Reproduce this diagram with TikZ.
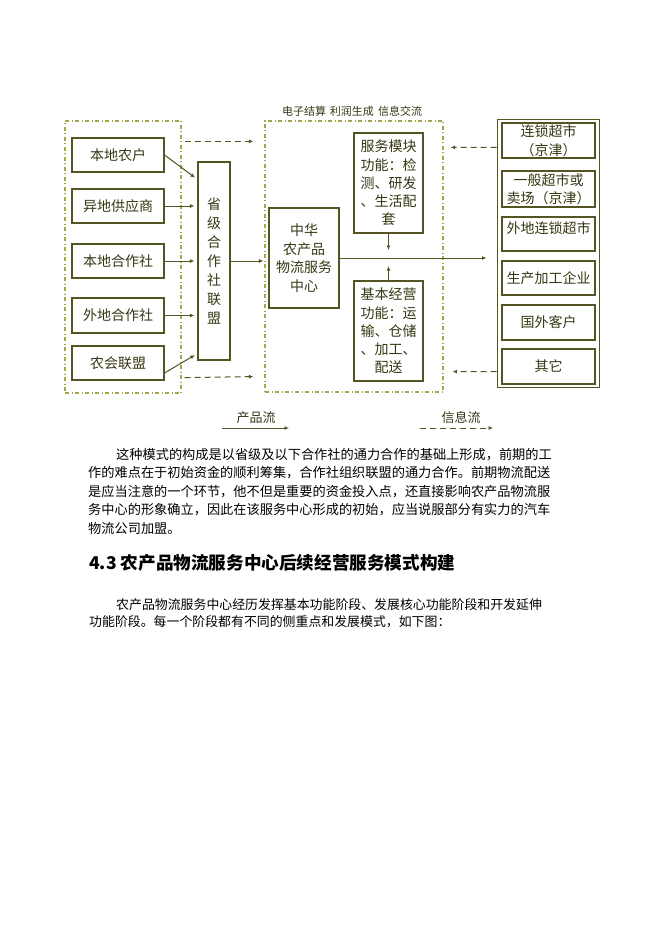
\documentclass[tikz,border=0pt]{standalone}
\usepackage{fontspec}
\setmainfont{Noto Sans CJK SC}
\usetikzlibrary{arrows.meta,calc}
\definecolor{lineC}{RGB}{85,85,35}
\definecolor{dashC}{RGB}{165,165,75}
\definecolor{txtC}{RGB}{55,55,20}
\tikzset{
 box/.style={draw=lineC, line width=1.1pt, text=txtC, font=\fontsize{14}{18.5}\selectfont, align=center, inner sep=0pt},
 lbox/.style={box, minimum width=92pt, minimum height=34pt},
 rbox/.style={box, minimum width=93pt, minimum height=35pt},
 encl/.style={draw=dashC, line width=1.2pt, dash pattern=on 4pt off 2.5pt on 1pt off 2.5pt, inner sep=0pt},
 arr/.style={draw=lineC, line width=1pt, -{Latex[length=4.5pt,width=4pt]}},
 darr/.style={arr, dash pattern=on 6pt off 4pt},
 para/.style={anchor=west, inner sep=0pt, font=\fontsize{13.2}{16}\selectfont},
 parb/.style={anchor=west, inner sep=0pt, font=\fontsize{12.9}{16}\selectfont},
 legend/.style={text=txtC, font=\fontsize{13}{15}\selectfont, inner sep=0pt},
}
\begin{document}
\begin{tikzpicture}[x=1pt,y=-1pt]
\fill[white] (0,0) rectangle (662,936);
\useasboundingbox (0,0) rectangle (662,936);
% enclosures
\node[encl, minimum width=116pt, minimum height=272pt] (LB) at (123,257) {};
\node[encl, minimum width=178pt, minimum height=271pt] (CB) at (354,256.5) {};
\node[text=txtC, font=\fontsize{11}{12}\selectfont, inner sep=0pt] (top) at (352,111) {电子结算\hspace{4pt}利润生成\hspace{4pt}信息交流};
% left boxes
\node[lbox] (n1) at (118,155) {本地农户};
\node[lbox] (n2) at (118,206) {异地供应商};
\node[lbox] (n3) at (118,261) {本地合作社};
\node[lbox, minimum height=35pt] (n4) at (118,315.5) {外地合作社};
\node[lbox] (n5) at (118,363) {农会联盟};
% province box
\node[box, minimum width=32pt, minimum height=198pt, font=\fontsize{14}{19}\selectfont] (P) at (214,261) {省\\级\\合\\作\\社\\联\\盟};
% center boxes
\node[box, minimum width=70pt, minimum height=100pt] (Z) at (304,258) {中华\\农产品\\物流服务\\中心};
\node[box, minimum width=69pt, minimum height=100pt, font=\fontsize{14}{18.3}\selectfont] (S) at (388.5,183) {服务模块\\功能：检\\测、研发\\、生活配\\套};
\node[box, minimum width=69pt, minimum height=100pt, font=\fontsize{14}{18.3}\selectfont] (B) at (388.5,331) {基本经营\\功能：运\\输、仓储\\、加工、\\配送};
% right
\node[draw=lineC, line width=1pt, minimum width=102pt, minimum height=267pt, inner sep=0pt] (R) at (548,253.5) {};
\node[rbox] (r1) at (548.5,140.5) {连锁超市\\（京津）};
\node[rbox, minimum height=36pt] (r2) at (548.5,189) {一般超市或\\卖场（京津）};
\node[rbox, minimum height=34pt] (r3) at (548.5,234) {\raisebox{12pt}{外地连锁超市}};
\node[rbox, minimum height=34pt] (r4) at (548.5,278) {\raisebox{-12pt}{生产加工企业}};
\node[rbox] (r5) at (548.5,322.5) {国外客户};
\node[rbox] (r6) at (548.5,366.5) {其它};
% arrows left
\draw[arr, shorten >=3pt] (n1.east) -- ($(P.north west)+(0,18)$);
\draw[arr, shorten >=3pt] (n2.east) -- (n2.east -| P.west);
\draw[arr, shorten >=3pt] (n3.east) -- (n3.east -| P.west);
\draw[arr, shorten >=3pt] (n4.east) -- (n4.east -| P.west);
\draw[arr, shorten >=3pt] ($(n5.east)+(0,10)$) -- ($(P.south west)+(0,-7)$);
\draw[darr] ($(LB.north east)+(3,21)$) -- ($(CB.north west)+(-11,21)$);
\draw[darr] ($(LB.south east)+(3,-16)$) -- ($(CB.south west)+(-11,-16)$);
\draw[arr, shorten >=5pt] (P.east) -- (P.east -| Z.west);
% center arrows
\draw[arr, shorten >=10pt] (Z.east) -- (Z.east -| R.west);
\draw[arr, shorten >=8pt] (S.south) -- (S.south |- Z.east);
\draw[arr, shorten >=8pt] (B.north) -- (B.north |- Z.east);
\draw[darr, shorten >=7pt] ($(R.north west)+(0,28)$) -- ($(CB.north east)+(0,27)$);
\draw[darr, shorten >=9pt] ($(R.south west)+(0,-16)$) -- ($(CB.south east)+(0,-21)$);
% legend
\node[legend] (L1) at (256,418) {产品流};
\node[legend] (L2) at (461,418) {信息流};
\coordinate (l1a) at (222,428);
\coordinate (l1b) at (289,428);
\coordinate (l2a) at (420,428);
\coordinate (l2b) at (493,428);
\draw[arr] (l1a) -- (l1b);
\draw[darr] (l2a) -- (l2b);
% text
\node[para] (p1) at (116,455) {这种模式的构成是以省级及以下合作社的通力合作的基础上形成，前期的工};
\node[para] (p2) at (88,473) {作的难点在于初始资金的顺利筹集，合作社组织联盟的通力合作。前期物流配送};
\node[para] (p3) at (88,492) {是应当注意的一个环节，他不但是重要的资金投入点，还直接影响农产品物流服};
\node[para] (p4) at (88,510) {务中心的形象确立，因此在该服务中心形成的初始，应当说服部分有实力的汽车};
\node[para] (p5) at (88,528) {物流公司加盟。};
\node[anchor=west, inner sep=0pt, font=\fontsize{17.6}{20}\bfseries] (h) at (89,563) {4.3 农产品物流服务中心后续经营服务模式构建};
\node[parb] (q1) at (116,605) {农产品物流服务中心经历发挥基本功能阶段、发展核心功能阶段和开发延伸};
\node[parb] (q2) at (89,622) {功能阶段。每一个阶段都有不同的侧重点和发展模式，如下图：};
\end{tikzpicture}
\end{document}
